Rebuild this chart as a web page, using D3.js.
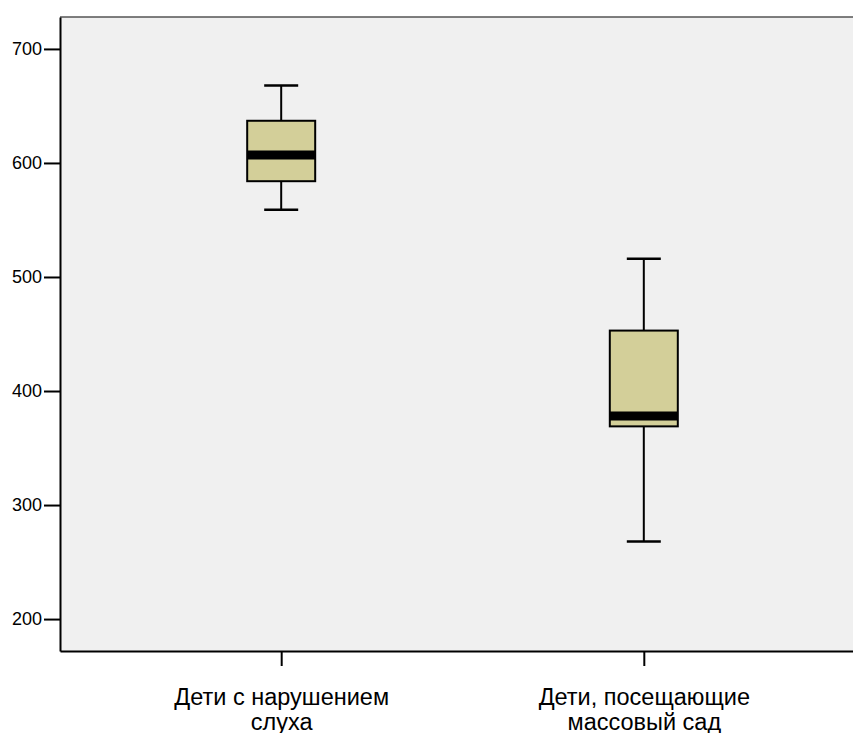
<!DOCTYPE html>
<html>
<head>
<meta charset="utf-8">
<script src="https://cdn.jsdelivr.net/npm/d3@7"></script>
<style>
    body { margin: 0; background: #fff; }
    text { font-family: "Liberation Sans", Arial, sans-serif; fill: #000; }
</style>
</head>
<body>
<svg id="chart" width="853" height="733"></svg>
<script>
// groups and their box statistics
const groups = ["Дети с нарушением слуха", "Дети, посещающие массовый сад"];
const groupLines = [["Дети с нарушением", "слуха"], ["Дети, посещающие", "массовый сад"]];
const whiskerLow = [559, 268];
const quartile1 = [584, 369];
const medians = [607, 378];
const quartile3 = [637, 453];
const whiskerHigh = [668, 516];
const yTicks = [200, 300, 400, 500, 600, 700];

const svg = d3.select("#chart");

const margin = { top: 17, right: -12, bottom: 82, left: 60 },
    width = 853 - margin.left - margin.right,
    height = 733 - margin.top - margin.bottom;

const g = svg.append("g")
    .attr("transform", "translate(" + margin.left + "," + margin.top + ")");

const x = d3.scalePoint()
    .domain(groups)
    .range([0, width])
    .padding(0.61);

const y = d3.scaleLinear()
    .domain([172, 728])
    .range([height, 0]);

// plot background
g.append("rect")
    .attr("width", width)
    .attr("height", height)
    .attr("fill", "#f0f0f0");

g.append("line")
    .attr("x1", 0).attr("x2", width)
    .attr("y1", 0).attr("y2", 0)
    .attr("stroke", "#555")
    .attr("stroke-width", 1.5);

const boxW = 68, capW = 34;

const box = g.selectAll("g.box")
    .data(groups)
    .enter()
    .append("g")
    .attr("class", "box");

// whiskers
box.append("line")
    .attr("x1", d => x(d)).attr("x2", d => x(d))
    .attr("y1", (d, i) => y(whiskerHigh[i]))
    .attr("y2", (d, i) => y(whiskerLow[i]))
    .attr("stroke", "#000")
    .attr("stroke-width", 2);

[whiskerLow, whiskerHigh].forEach(arr => {
    box.append("line")
        .attr("x1", d => x(d) - capW / 2).attr("x2", d => x(d) + capW / 2)
        .attr("y1", (d, i) => y(arr[i])).attr("y2", (d, i) => y(arr[i]))
        .attr("stroke", "#000")
        .attr("stroke-width", 2.5);
});

// boxes
box.append("rect")
    .attr("x", d => x(d) - boxW / 2)
    .attr("width", boxW)
    .attr("y", (d, i) => y(quartile3[i]))
    .attr("height", (d, i) => y(quartile1[i]) - y(quartile3[i]))
    .attr("fill", "#d3cf99")
    .attr("stroke", "#000")
    .attr("stroke-width", 2);

// medians
box.append("line")
    .attr("x1", d => x(d) - boxW / 2).attr("x2", d => x(d) + boxW / 2)
    .attr("y1", (d, i) => y(medians[i])).attr("y2", (d, i) => y(medians[i]))
    .attr("stroke", "#000")
    .attr("stroke-width", 9);

// y axis
const yAxis = g.append("g")
    .call(d3.axisLeft(y).tickValues(yTicks).tickSize(16).tickPadding(2).tickSizeOuter(0));
yAxis.select(".domain").attr("stroke-width", 2);
yAxis.selectAll(".tick line").attr("stroke-width", 2);
yAxis.selectAll(".tick text")
    .style("font-size", "18px")
    .attr("fill", "#000");

// x axis
const xAxis = g.append("g")
    .attr("transform", "translate(0," + height + ")")
    .call(d3.axisBottom(x).tickSize(15).tickSizeOuter(0).tickFormat(""));
xAxis.select(".domain").attr("stroke-width", 2);
xAxis.selectAll(".tick line").attr("stroke-width", 2);

xAxis.selectAll(".tick")
    .append("text")
    .attr("text-anchor", "middle")
    .style("font-size", "23.5px")
    .selectAll("tspan")
    .data((d, i) => groupLines[i])
    .enter()
    .append("tspan")
    .attr("x", 0)
    .attr("y", (d, j) => 54 + j * 25)
    .text(d => d);
</script>
</body>
</html>
